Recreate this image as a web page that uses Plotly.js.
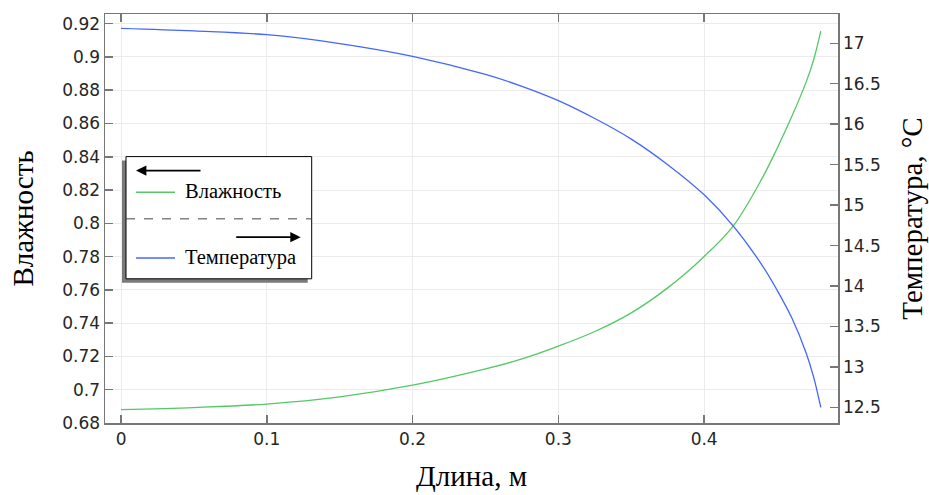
<!DOCTYPE html>
<html>
<head>
<meta charset="utf-8">
<script src="https://cdn.plot.ly/plotly-3.0.1.min.js"></script>
<style>html,body{margin:0;padding:0;background:#fff;}#chart{width:929px;height:495px;}</style>
</head>
<body>
<div id="chart"></div>
<script>
// Data
const lengthM = [0, 0.05, 0.1, 0.15, 0.2, 0.25, 0.275, 0.3, 0.325, 0.35, 0.375, 0.4, 0.42, 0.44, 0.45, 0.46, 0.47, 0.475, 0.48];
const humidity = [0.688, 0.6893, 0.6914, 0.6957, 0.7027, 0.7125, 0.7185, 0.7262, 0.7350, 0.7462, 0.7612, 0.7801, 0.7985, 0.8275, 0.845, 0.864, 0.885, 0.898, 0.9155];
const temperature = [17.185, 17.153, 17.106, 16.997, 16.839, 16.615, 16.468, 16.291, 16.07, 15.816, 15.50, 15.127, 14.74, 14.25, 13.95, 13.61, 13.17, 12.88, 12.5];
const legendLabels = ['Влажность', 'Температура'];
const xTitle = 'Длина, м';
const yLeftTitle = 'Влажность';
const yRightTitle = 'Температура, °C';

const W = 929, H = 495;
const L = 105, R = 838, T = 14, B = 423.3;
const px = x => (x - L) / (R - L);
const py = y => (B - y) / (B - T);

const green = '#55c865';
const blue = '#4466ff';
const tickFont = {family: 'DejaVu Sans', size: 17, color: '#262626'};
const titleFont = {family: 'Liberation Serif', size: 29, color: '#000'};
const legFont = {family: 'Liberation Serif', size: 20.5, color: '#000'};

const traces = [
  {x: lengthM, y: humidity, type: 'scatter', mode: 'lines', name: legendLabels[0],
   line: {color: green, width: 1.3, shape: 'spline', smoothing: 1}, yaxis: 'y', showlegend: false},
  {x: lengthM, y: temperature, type: 'scatter', mode: 'lines', name: legendLabels[1],
   line: {color: blue, width: 1.3, shape: 'spline', smoothing: 1}, yaxis: 'y2', showlegend: false}
];

const shapes = [
  // legend shadow
  {type: 'rect', xref: 'paper', yref: 'paper', x0: px(122), x1: px(307.7), y0: py(283), y1: py(160.7),
   fillcolor: '#7a7a7a', line: {width: 0}},
  // legend box
  {type: 'rect', xref: 'paper', yref: 'paper', x0: px(126), x1: px(311.7), y0: py(279), y1: py(156.7),
   fillcolor: '#ffffff', line: {color: '#000', width: 1}},
  // dashed separator
  {type: 'line', xref: 'paper', yref: 'paper', x0: px(126), x1: px(311.7), y0: py(219), y1: py(219),
   line: {color: '#444', width: 1, dash: 'dash'}},
  // green sample line
  {type: 'line', xref: 'paper', yref: 'paper', x0: px(136), x1: px(175), y0: py(192.3), y1: py(192.3),
   line: {color: green, width: 1.5}},
  // blue sample line
  {type: 'line', xref: 'paper', yref: 'paper', x0: px(136), x1: px(175), y0: py(258.3), y1: py(258.3),
   line: {color: blue, width: 1.5}}
];

const annotations = [
  {xref: 'paper', yref: 'paper', x: px(183), y: py(191.5), xanchor: 'left', yanchor: 'middle',
   text: legendLabels[0], showarrow: false, font: legFont},
  {xref: 'paper', yref: 'paper', x: px(183), y: py(257.5), xanchor: 'left', yanchor: 'middle',
   text: legendLabels[1], showarrow: false, font: legFont},
  // left arrow (humidity -> left axis)
  {xref: 'paper', yref: 'paper', x: px(136), y: py(170.7), ax: 66, ay: 0, text: '',
   showarrow: true, arrowhead: 2, arrowsize: 1.3, arrowwidth: 1.6, arrowcolor: '#000'},
  // right arrow (temperature -> right axis)
  {xref: 'paper', yref: 'paper', x: px(300.7), y: py(237.3), ax: -66, ay: 0, text: '',
   showarrow: true, arrowhead: 2, arrowsize: 1.3, arrowwidth: 1.6, arrowcolor: '#000'}
];

const layout = {
  width: W, height: H,
  margin: {l: L, r: W - R, t: T, b: H - B},
  paper_bgcolor: '#fff', plot_bgcolor: '#fff',
  showlegend: false,
  xaxis: {
    range: [-0.011, 0.4918], tickvals: [0, 0.1, 0.2, 0.3, 0.4], ticktext: ['0', '0.1', '0.2', '0.3', '0.4'],
    ticks: 'inside', ticklen: 8, tickcolor: '#777', tickwidth: 1.5,
    showline: true, linecolor: '#777', linewidth: 1.5, mirror: 'ticks',
    showgrid: true, gridcolor: '#ebebeb', gridwidth: 1, zeroline: false,
    tickfont: tickFont,
    title: {text: xTitle, font: titleFont, standoff: 18}
  },
  yaxis: {
    range: [0.68, 0.9258], dtick: 0.02, tick0: 0.68,
    ticks: 'inside', ticklen: 8, tickcolor: '#777', tickwidth: 1.5,
    showline: true, linecolor: '#777', linewidth: 1.5,
    showgrid: true, gridcolor: '#ebebeb', gridwidth: 1, zeroline: false,
    tickfont: tickFont,
    title: {text: yLeftTitle, font: titleFont, standoff: 20}
  },
  yaxis2: {
    overlaying: 'y', side: 'right', range: [12.307, 17.362], dtick: 0.5, tick0: 12.5,
    ticks: 'inside', ticklen: 8, tickcolor: '#777', tickwidth: 1.5,
    showline: true, linecolor: '#777', linewidth: 1.5,
    showgrid: false, zeroline: false,
    tickfont: tickFont,
    title: {text: yRightTitle, font: titleFont, standoff: 22}
  },
  shapes: shapes,
  annotations: annotations
};

Plotly.newPlot('chart', traces, layout, {staticPlot: true, displayModeBar: false});
</script>
</body>
</html>
